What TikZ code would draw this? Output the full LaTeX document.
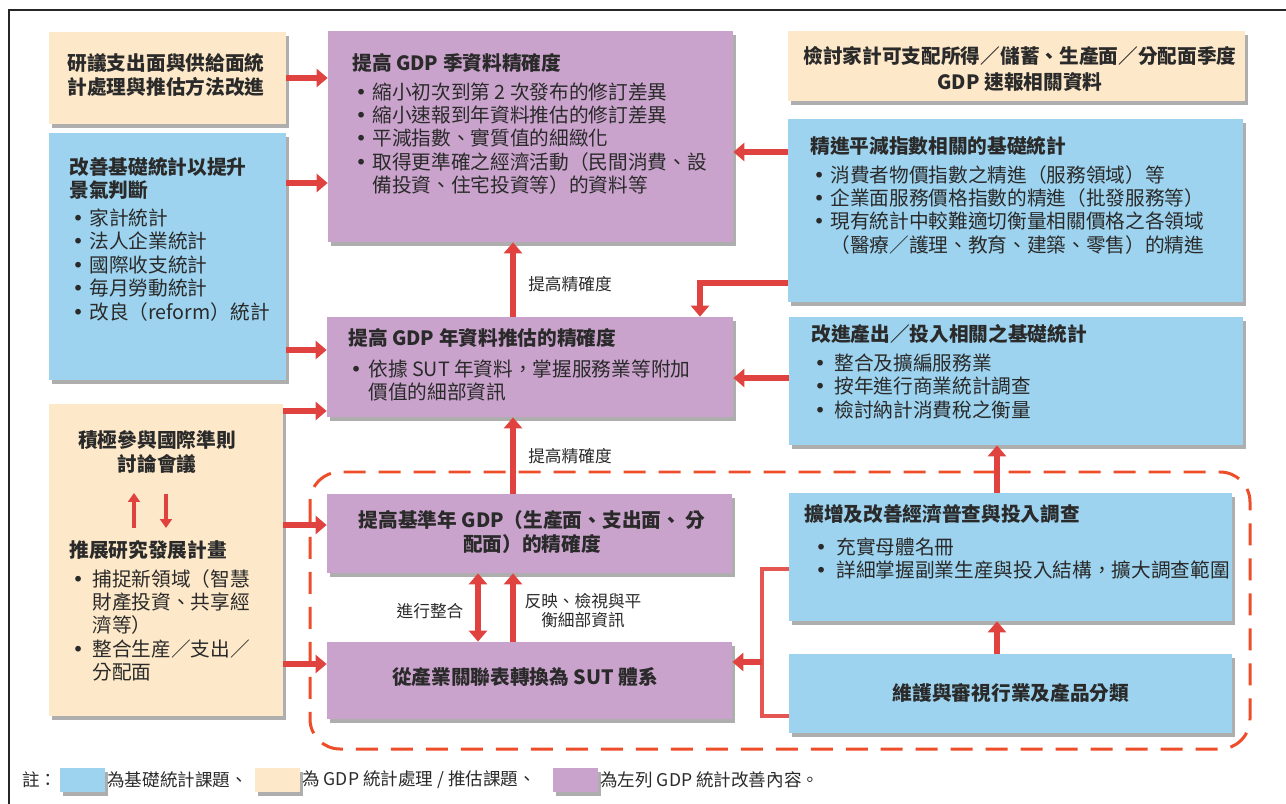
\documentclass[tikz,border=0pt]{standalone}
\usepackage{fontspec}
\setmainfont{Noto Sans CJK TC}
\newfontfamily\dejavu{DejaVu Sans}
\usetikzlibrary{arrows.meta,shadows,fit}
\definecolor{cpur}{HTML}{C9A3CC}
\definecolor{cblu}{HTML}{9DD3EE}
\definecolor{cbei}{HTML}{FDE9C9}
\definecolor{cred}{HTML}{E0433F}
\definecolor{cdash}{HTML}{EE4D2A}
\definecolor{ctxt}{HTML}{2A2A2A}
\newcommand{\bu}[2][0.06cm]{\hspace*{#1}\makebox[#2][l]{{\dejavu •}}}
\newcommand{\bi}[2][0.06cm]{\hspace*{#1}\hspace*{#2}}
\begin{document}
\begin{tikzpicture}[x=0.02cm,y=-0.02cm,
  box/.style={inner sep=0, draw=none, drop shadow={shadow xshift=0.06cm, shadow yshift=-0.08cm, opacity=0.45, fill=black!70}},
  txt/.style={anchor=north west, inner sep=0, align=left, text=ctxt, font=\fontsize{11.2}{13.3}\selectfont},
  ctxtn/.style={anchor=center, inner sep=0, align=center, text=ctxt, font=\fontsize{11.2}{13.3}\selectfont\bfseries},
  lab/.style={anchor=center, inner sep=0, align=center, text=ctxt, font=\fontsize{9.5}{10.8}\selectfont},
  legtxt/.style={anchor=west, inner sep=0, text=ctxt, font=\fontsize{10}{12}\selectfont},
  bigarr/.style={draw=cred, line width=0.13cm, -{Triangle[width=0.36cm,length=0.22cm]}},
  dblarr/.style={draw=cred, line width=0.13cm, {Triangle[width=0.36cm,length=0.22cm]}-{Triangle[width=0.36cm,length=0.22cm]}},
  smallarr/.style={draw=cred, line width=0.08cm, -{Triangle[width=0.24cm,length=0.18cm]}},
  brk/.style={draw=cred!90!white, line width=0.07cm}
]
\useasboundingbox (0,0) rectangle (1286,804);
% frame
\draw[line width=0.045cm, black!85] (9,804) -- (9,10) -- (1286,10);

% dashed group
\draw[cdash, line width=0.06cm, dash pattern=on 0.44cm off 0.26cm, rounded corners=0.6cm] (310,472) rectangle (1250,749);

% boxes
\node[box, fill=cbei, fit={(49,32)(286,124)}] (b1) {};
\node[box, fill=cblu, fit={(49,133)(286,380)}] (b2) {};
\node[box, fill=cbei, fit={(49,404)(283,716)}] (b3) {};
\node[box, fill=cpur, fit={(328,31)(733,242)}] (q1) {};
\node[box, fill=cpur, fit={(327,317)(733,417)}] (q2) {};
\node[box, fill=cpur, fit={(327,494)(732,573)}] (q3) {};
\node[box, fill=cpur, fit={(327,642)(732,719)}] (q4) {};
\node[box, fill=cbei, fit={(788,31)(1245,101)}] (r0) {};
\node[box, fill=cblu, fit={(788,119)(1243,302)}] (r1) {};
\node[box, fill=cblu, fit={(789,317)(1243,445)}] (r2) {};
\node[box, fill=cblu, fit={(789,493)(1232,621)}] (r3) {};
\node[box, fill=cblu, fit={(789,654)(1232,733)}] (r4) {};

% texts
\node[ctxtn, align=left] (tb1) at (166,75) {研議支出面與供給面統\\[0.03cm]計處理與推估方法改進};
\node[txt] (tb2) at (69,157) {\textbf{改善基礎統計以提升}\\\textbf{景氣判斷}\\[0.09cm]
\bu{0.34cm}家計統計\\\bu{0.34cm}法人企業統計\\\bu{0.34cm}國際收支統計\\\bu{0.34cm}毎月勞動統計\\\bu{0.34cm}改良（reform）統計};
\node[ctxtn] (tb3a) at (157,452) {積極參與國際準則\\[0.03cm]討論會議};
\node[txt] (tb3b) at (69,540) {\textbf{推展研究發展計畫}\\[0.11cm]
\bu{0.4cm}捕捉新領域（智慧\\\bi{0.4cm}財產投資、共享經\\\bi{0.4cm}濟等）\\\bu{0.4cm}整合生産／支出／\\\bi{0.4cm}分配面};
\node[txt] (tq1) at (352,53) {\textbf{提高 GDP 季資料精確度}\\[0.11cm]
\bu{0.34cm}縮小初次到第 2 次發布的修訂差異\\\bu{0.34cm}縮小速報到年資料推估的修訂差異\\\bu{0.34cm}平減指數、實質值的細緻化\\\bu{0.34cm}取得更準確之經濟活動（民間消費、設\\\bi{0.34cm}備投資、住宅投資等）的資料等};
\node[txt] (tq2) at (348,328) {\textbf{提高 GDP 年資料推估的精確度}\\[0.15cm]
\bu[0.04cm]{0.36cm}依據 SUT 年資料，掌握服務業等附加\\\bi[0.04cm]{0.36cm}價值的細部資訊};
\node[ctxtn] (tq3) at (532,532) {提高基準年 GDP（生產面、支出面、 分\\配面）的精確度};
\node[ctxtn] (tq4) at (525,677) {從產業關聯表轉換為 SUT 體系};
\node[ctxtn] (tr0) at (1020,69) {檢討家計可支配所得／儲蓄、生產面／分配面季度\\[0.05cm]GDP 速報相關資料};
\node[txt] (tr1) at (810,136) {\textbf{精進平減指數相關的基礎統計}\\[0.11cm]
\bu{0.34cm}消費者物價指數之精進（服務領域）等\\\bu{0.34cm}企業面服務價格指數的精進（批發服務等）\\\bu{0.34cm}現有統計中較難適切衡量相關價格之各領域\\\bi{0.34cm}（醫療／護理、教育、建築、零售）的精進};
\node[txt] (tr2) at (811,324) {\textbf{改進產出／投入相關之基礎統計}\\[0.11cm]
\bu{0.4cm}整合及擴編服務業\\\bu{0.4cm}按年進行商業統計調查\\\bu{0.4cm}檢討納計消費稅之衡量};
\node[txt] (tr3) at (804,504) {\textbf{擴增及改善經濟普查與投入調查}\\[0.19cm]
\bu[0.22cm]{0.42cm}充實母體名冊\\\bu[0.22cm]{0.42cm}詳細掌握副業生産與投入結構，擴大調查範圍};
\node[ctxtn] (tr4) at (1011,693) {維護與審視行業及產品分類};

% labels
\node[lab] (l1) at (570,284) {提高精確度};
\node[lab] (l2) at (570,456) {提高精確度};
\node[lab] (l3) at (430,611) {進行整合};
\node[lab] (l4) at (583,611) {反映、檢視與平\\衡細部資訊};

% helper coordinates
\coordinate (ya2) at (0,183);
\coordinate (ya3) at (0,350);
\coordinate (ya4) at (0,411);
\coordinate (ya5) at (0,525);
\coordinate (ya6) at (0,664);
\coordinate (ya11) at (0,152);
\coordinate (ya12) at (0,283);
\coordinate (ya13) at (0,378);
\coordinate (xv1) at (513,0);
\coordinate (xv2) at (478,0);
\coordinate (xv3) at (997,0);
\coordinate (xb) at (700,0);
\coordinate (br1) at (762,569);
\coordinate (br2) at (762,716);
\coordinate (br3) at (762,662);
\coordinate (su1) at (134,528);
\coordinate (su2) at (134,493);
\coordinate (sd1) at (166,494);
\coordinate (sd2) at (166,528);

% arrows from left
\draw[bigarr] (b1.east) -- (b1.east -| q1.west);
\draw[bigarr] (b2.east |- ya2) -- (q1.west |- ya2);
\draw[bigarr] (b2.east |- ya3) -- (q2.west |- ya3);
\draw[bigarr] (b3.east |- ya4) -- (q2.west |- ya4);
\draw[bigarr] (b3.east |- ya5) -- (q3.west |- ya5);
\draw[bigarr] (b3.east |- ya6) -- (q4.west |- ya6);
% vertical center arrows
\draw[bigarr] (q2.north -| xv1) -- (q1.south -| xv1);
\draw[bigarr] (q3.north -| xv1) -- (q2.south -| xv1);
\draw[bigarr] (q4.north -| xv1) -- (q3.south -| xv1);
\draw[dblarr] (q4.north -| xv2) -- (q3.south -| xv2);
% arrows from right
\draw[bigarr] (r1.west |- ya11) -- (q1.east |- ya11);
\draw[bigarr] (r1.west |- ya12) -| (q2.north -| xb);
\draw[bigarr] (r2.west |- ya13) -- (q2.east |- ya13);
\draw[bigarr] (r3.north -| xv3) -- (r2.south -| xv3);
\draw[bigarr] (r4.north -| xv3) -- (r3.south -| xv3);
% bracket
\draw[brk] (br1 -| r3.west) -- (br1) -- (br2) -- (br2 -| r4.west);
\draw[bigarr] (br3) -- (br3 -| q4.east);
% small arrows in b3
\draw[smallarr] (su1) -- (su2);
\draw[smallarr] (sd1) -- (sd2);

% legend
\node[legtxt] (g0) at (22,780) {註：};
\node[box, fill=cblu, fit={(60,768)(105,792)}] (s1) {};
\node[legtxt] (g1) at (107,780) {為基礎統計課題、};
\node[box, fill=cbei, fit={(255,768)(300,792)}] (s2) {};
\node[legtxt] (g2) at (302,780) {為 GDP 統計處理 / 推估課題、};
\node[box, fill=cpur, fit={(553,768)(598,792)}] (s3) {};
\node[legtxt] (g3) at (600,780) {為左列 GDP 統計改善內容。};
\end{tikzpicture}
\end{document}
